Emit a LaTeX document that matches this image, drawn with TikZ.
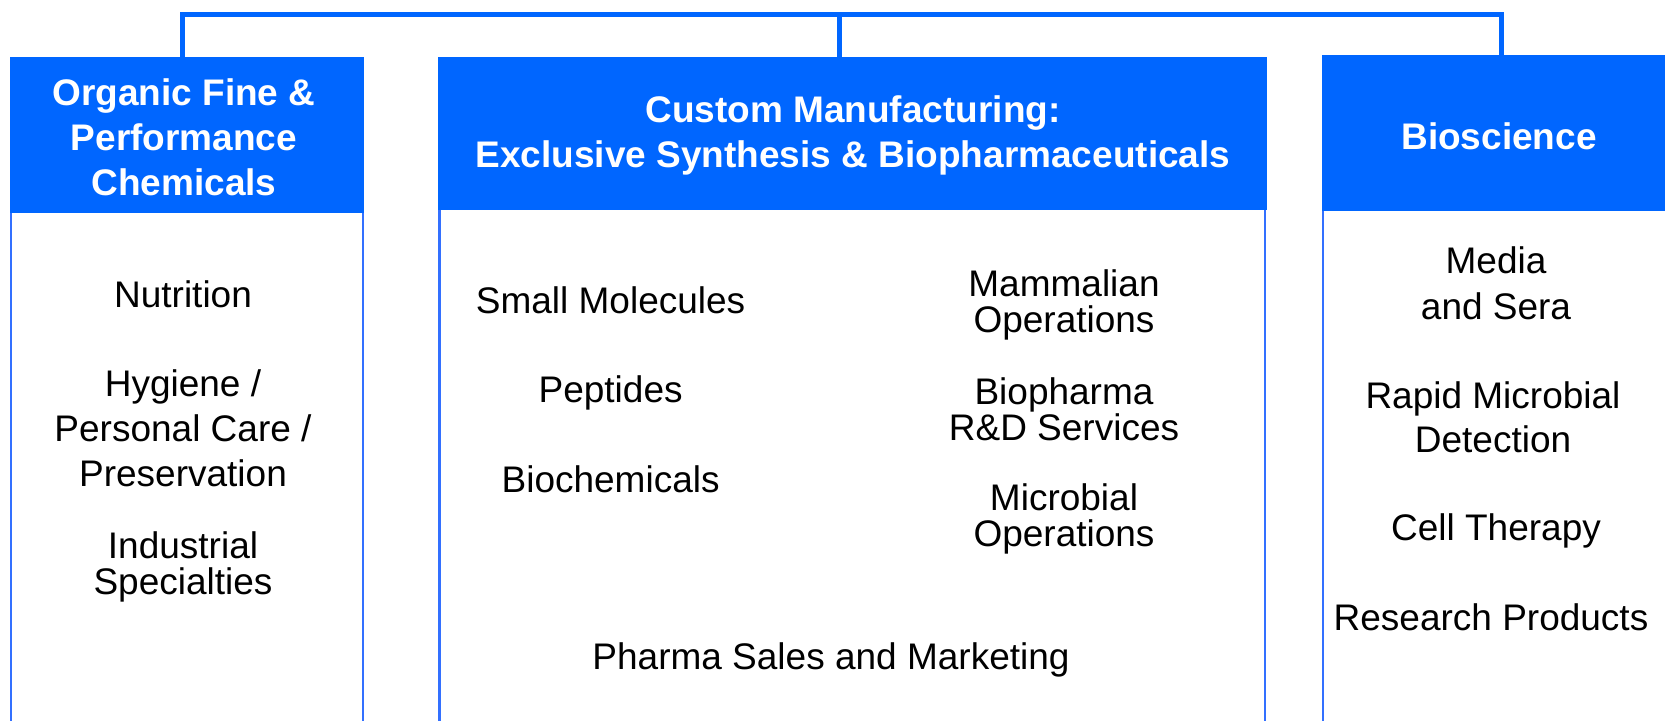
\documentclass[tikz,border=0pt]{standalone}
\usepackage{fontspec}
\setmainfont{Liberation Sans}
\definecolor{hdr}{RGB}{0,102,255}
\definecolor{edge}{RGB}{51,112,255}
\begin{document}
\begin{tikzpicture}[x=0.5pt,y=-0.5pt,
  hdrbox/.style={fill=hdr,inner sep=0pt,text=white,font=\fontsize{18.5}{22.5}\selectfont\bfseries,align=center},
  item/.style={inner sep=0pt,align=center,font=\fontsize{18.5}{22.5}\selectfont},
  tight/.style={inner sep=0pt,align=center,font=\fontsize{18.5}{18}\selectfont},
  conn/.style={draw=hdr,line width=2.5pt},
  bodyline/.style={draw=edge,line width=1.25pt}]
\useasboundingbox (0,0) rectangle (1665,720);
% body outlines
\draw[bodyline] (11,213) -- (11,740) (363,213) -- (363,740);
\draw[bodyline] (439.5,210) -- (439.5,740) (1265,210) -- (1265,740);
\draw[bodyline] (1323,211) -- (1323,740);
% headers
\node[hdrbox,minimum width=177pt,minimum height=78pt] (hL) at (187,135) {};
\node[hdrbox,minimum width=414.5pt,minimum height=76.5pt] (hC) at (852.5,133.5) {};
\node[hdrbox,minimum width=178pt,minimum height=78pt] (hR) at (1500,133) {};
\node[hdrbox] (tL) at (184,137) {Organic Fine \&\\Performance\\Chemicals};
\node[hdrbox] (tC) at (853,135) {Custom Manufacturing:\\Exclusive Synthesis \& Biopharmaceuticals};
\node[hdrbox] (tR) at (1499,136) {Bioscience};
% connectors
\coordinate (busL) at (182.5,14);
\coordinate (busC) at (839,14);
\coordinate (busR) at (1501,14);
\draw[conn] (hL.north -| busL) -- (busL) -- (busR) -- (hR.north -| busR);
\draw[conn] (busC) -- (hC.north -| busC);
% left items
\node[item] (l1) at (183,294) {Nutrition};
\node[item] (l2) at (183,428) {Hygiene /\\Personal Care /\\Preservation};
\node[tight] (l3) at (183,567) {Industrial\\Specialties};
% middle items
\node[item] (m1) at (610.6,300.5) {Small Molecules};
\node[item] (m2) at (610.6,393) {Peptides};
\node[item] (m3) at (610.6,479) {Biochemicals};
\node[tight] (m4) at (1064,305) {Mammalian\\Operations};
\node[tight] (m5) at (1064,409.5) {Biopharma\\R\&D Services};
\node[tight] (m6) at (1064,518.7) {Microbial\\Operations};
\node[item] (m7) at (831,660) {Pharma Sales and Marketing};
% right items
\node[item,font=\fontsize{18.5}{23}\selectfont] (r1) at (1496,283) {Media\\and Sera};
\node[item,font=\fontsize{18.5}{22}\selectfont] (r2) at (1493,417) {Rapid Microbial\\Detection};
\node[item] (r3) at (1496,531) {Cell Therapy};
\node[item] (r4) at (1491,617) {Research Products};
\end{tikzpicture}
\end{document}
